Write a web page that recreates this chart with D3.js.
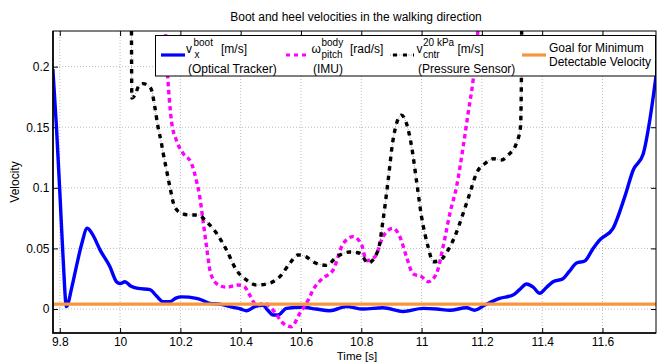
<!DOCTYPE html>
<html><head><meta charset="utf-8">
<script src="https://cdn.jsdelivr.net/npm/d3@7"></script>
<style>
body{margin:0;background:#fff}
text{font-family:"Liberation Sans",Arial,Helvetica,sans-serif;fill:#000}
</style>
</head><body><svg id="c" width="658" height="362"></svg>
<script>
// ---------- data ----------
const xTicks = [9.8, 10, 10.2, 10.4, 10.6, 10.8, 11, 11.2, 11.4, 11.6];
const xTickLabels = ["9.8", "10", "10.2", "10.4", "10.6", "10.8", "11", "11.2", "11.4", "11.6"];
const yTicks = [0, 0.05, 0.1, 0.15, 0.2];
const yTickLabels = ["0", "0.05", "0.1", "0.15", "0.2"];

// optical tracker v_x^boot [m/s]
const bootT = [9.777,9.789,9.800,9.811,9.822,9.840,9.855,9.872,9.891,9.910,9.933,9.966,9.988,10.000,10.016,10.035,10.060,10.099,10.120,10.143,10.165,10.185,10.204,10.253,10.275,10.298,10.331,10.375,10.400,10.419,10.452,10.474,10.490,10.508,10.524,10.552,10.602,10.650,10.696,10.751,10.806,10.872,10.939,11.005,11.050,11.094,11.149,11.176,11.210,11.259,11.303,11.325,11.348,11.370,11.392,11.415,11.436,11.469,11.490,11.514,11.541,11.569,11.591,11.635,11.674,11.702,11.735,11.757,11.778];
const bootV = [0.198,0.150,0.097,0.042,0.002,0.018,0.035,0.053,0.0666,0.061,0.049,0.035,0.0225,0.021,0.0225,0.019,0.017,0.016,0.011,0.006,0.006,0.009,0.010,0.0088,0.007,0.0047,0.004,0.0014,0.000,-0.0014,0.0025,0.003,-0.001,-0.005,-0.005,0.0005,0.0014,0.000,-0.0014,0.002,0.000,0.001,-0.002,0.0005,0.000,-0.001,0.001,-0.001,0.0033,0.0088,0.0115,0.016,0.0206,0.018,0.013,0.018,0.0225,0.025,0.031,0.038,0.0396,0.050,0.057,0.0666,0.0927,0.1147,0.128,0.156,0.193];

// IMU omega_pitch^body [rad/s]
const imuT = [10.145,10.159,10.167,10.170,10.187,10.209,10.237,10.253,10.264,10.275,10.287,10.298,10.320,10.353,10.391,10.414,10.430,10.452,10.480,10.507,10.541,10.568,10.596,10.624,10.640,10.670,10.706,10.740,10.773,10.801,10.817,10.845,10.872,10.905,10.928,10.950,10.972,11.000,11.022,11.049,11.071,11.094,11.116,11.138,11.154,11.171,11.200];
const imuV = [0.26,0.188,0.163,0.156,0.139,0.1285,0.120,0.106,0.093,0.073,0.051,0.032,0.021,0.018,0.0198,0.018,0.0115,0.0033,0.0047,-0.0008,-0.0118,-0.0146,-0.0036,0.0074,0.0157,0.025,0.032,0.054,0.0597,0.053,0.040,0.043,0.0597,0.0666,0.0597,0.043,0.029,0.0267,0.0225,0.029,0.051,0.079,0.101,0.134,0.161,0.189,0.27];

// pressure sensor v_cntr^20kPa [m/s]
const pressT = [10.037,10.039,10.048,10.062,10.076,10.095,10.104,10.115,10.126,10.137,10.143,10.154,10.165,10.181,10.204,10.231,10.259,10.287,10.320,10.353,10.386,10.419,10.452,10.491,10.530,10.563,10.590,10.618,10.640,10.685,10.718,10.762,10.795,10.823,10.856,10.872,10.889,10.905,10.933,10.950,10.967,10.983,11.000,11.022,11.038,11.060,11.088,11.110,11.138,11.160,11.182,11.210,11.237,11.265,11.287,11.315,11.328,11.331,11.333];
const pressV = [0.30,0.174,0.176,0.184,0.186,0.184,0.181,0.167,0.150,0.137,0.1285,0.1147,0.101,0.0844,0.079,0.0776,0.0776,0.072,0.0625,0.0487,0.032,0.024,0.0198,0.021,0.0267,0.0377,0.0446,0.043,0.039,0.036,0.043,0.047,0.046,0.038,0.0487,0.073,0.106,0.139,0.160,0.153,0.134,0.106,0.076,0.051,0.039,0.040,0.0487,0.0597,0.079,0.0955,0.112,0.120,0.124,0.123,0.127,0.137,0.150,0.189,0.30];

// goal for minimum detectable velocity
const goalT = [9.7775, 11.7775];
const goalV = [0.004, 0.004];

const titleText = "Boot and heel velocities in the walking direction";
const xLabel = "Time [s]";
const yLabel = "Velocity";

// ---------- layout ----------
const L = 53, R = 656, T = 31, B = 333;
const svg = d3.select("#c");
const x = d3.scaleLinear().domain([9.7775, 11.7775]).range([L, R]);
const y = d3.scaleLinear().domain([-0.0198, 0.2294]).range([B, T]);

const COL = {boot: "#0000ff", imu: "#ff00ff", press: "#000", goal: "#f7963f"};

svg.append("defs").append("clipPath").attr("id", "clip")
  .append("rect").attr("x", L).attr("y", T).attr("width", R - L).attr("height", B - T);

// grid
const grid = svg.append("g").attr("stroke", "#a8a8a8").attr("stroke-width", 0.8).attr("stroke-dasharray", "1,2");
grid.selectAll(".gx").data(xTicks).join("line")
  .attr("x1", d => x(d)).attr("x2", d => x(d)).attr("y1", T).attr("y2", B);
grid.selectAll(".gy").data(yTicks).join("line")
  .attr("x1", L).attr("x2", R).attr("y1", d => y(d)).attr("y2", d => y(d));

// axes
const fmtX = d => xTickLabels[xTicks.indexOf(d)];
const fmtY = d => yTickLabels[yTicks.indexOf(d)];
const ax = (g) => { g.select(".domain").remove(); g.selectAll("text").attr("font-size", 12).attr("font-family", '"Liberation Sans",Arial,sans-serif').attr("fill", "#000"); g.selectAll("line").attr("stroke", "#000"); };
svg.append("g").attr("transform", `translate(0,${B})`)
  .call(d3.axisBottom(x).tickValues(xTicks).tickFormat(fmtX).tickSizeInner(-5).tickSizeOuter(0).tickPadding(4.5)).call(ax);
svg.append("g").attr("transform", `translate(${L},0)`)
  .call(d3.axisLeft(y).tickValues(yTicks).tickFormat(fmtY).tickSizeInner(-5).tickSizeOuter(0).tickPadding(3.5)).call(ax);
svg.append("g").attr("transform", `translate(0,${T})`)
  .call(d3.axisTop(x).tickValues(xTicks).tickFormat("").tickSizeInner(-5).tickSizeOuter(0)).call(ax);
svg.append("g").attr("transform", `translate(${R},0)`)
  .call(d3.axisRight(y).tickValues(yTicks).tickFormat("").tickSizeInner(-5).tickSizeOuter(0)).call(ax);

// lines
const plot = svg.append("g").attr("clip-path", "url(#clip)");
const mk = (ts, vs) => ts.map((t, i) => [t, vs[i]]);
const line = d3.line().x(d => x(d[0])).y(d => y(d[1])).curve(d3.curveMonotoneX);

plot.append("path").datum(mk(bootT, bootV)).attr("d", line)
  .attr("fill", "none").attr("stroke", COL.boot).attr("stroke-width", 3.4).attr("stroke-linejoin", "round");
plot.append("path").datum(mk(imuT, imuV)).attr("d", line)
  .attr("fill", "none").attr("stroke", COL.imu).attr("stroke-width", 3.4).attr("stroke-dasharray", "4.5,3.5");
plot.append("path").datum(mk(pressT, pressV)).attr("d", line)
  .attr("fill", "none").attr("stroke", "#8a8a8a").attr("stroke-width", 0.9).attr("stroke-dasharray", "1,1.3");
plot.append("path").datum(mk(pressT, pressV)).attr("d", line)
  .attr("fill", "none").attr("stroke", COL.press).attr("stroke-width", 3.4).attr("stroke-dasharray", "4.5,5");
plot.append("path").datum(mk(goalT, goalV)).attr("d", line)
  .attr("fill", "none").attr("stroke", COL.goal).attr("stroke-width", 3.2);

// frame
svg.append("rect").attr("x", L).attr("y", T).attr("width", R - L).attr("height", B - T)
  .attr("fill", "none").attr("stroke", "#000").attr("stroke-width", 1);
svg.append("path").attr("d", `M${L},${T}V${B}H${R}`).attr("fill", "none").attr("stroke", "#000").attr("stroke-width", 1.6);

// titles
svg.append("text").attr("x", 356).attr("y", 21).attr("text-anchor", "middle").attr("font-size", 12).text(titleText);
svg.append("text").attr("x", 357).attr("y", 359.5).attr("text-anchor", "middle").attr("font-size", 11.5).text(xLabel);
svg.append("text").attr("transform", "translate(19,182) rotate(-90)").attr("text-anchor", "middle").attr("font-size", 12).text(yLabel);

// legend
const lg = svg.append("g");
lg.append("rect").attr("x", 155.5).attr("y", 35.5).attr("width", 500).attr("height", 40.5)
  .attr("fill", "#fff").attr("stroke", "#000").attr("stroke-width", 1);
const t = (xx, yy, s, fs) => lg.append("text").attr("x", xx).attr("y", yy).attr("font-size", fs || 12).text(s);
// entry 1
lg.append("line").attr("x1", 161).attr("x2", 185).attr("y1", 55).attr("y2", 55).attr("stroke", COL.boot).attr("stroke-width", 3.2);
t(186, 52.5, "v"); t(193.5, 46, "boot", 10); t(194.5, 58, "x", 10); t(221, 52.5, "[m/s]"); t(188, 72.5, "(Optical Tracker)");
// entry 2
lg.append("line").attr("x1", 286).attr("x2", 310).attr("y1", 55).attr("y2", 55).attr("stroke", COL.imu).attr("stroke-width", 3.2).attr("stroke-dasharray", "4,4");
t(311.5, 52.5, "ω"); t(321.5, 46, "body", 10); t(321.5, 58, "pitch", 10); t(350, 52.5, "[rad/s]"); t(313, 72.5, "(IMU)");
// entry 3
lg.append("line").attr("x1", 390).attr("x2", 414).attr("y1", 55).attr("y2", 55).attr("stroke", "#8a8a8a").attr("stroke-width", 0.9).attr("stroke-dasharray", "1,1.3");
lg.append("line").attr("x1", 393).attr("x2", 414).attr("y1", 55).attr("y2", 55).attr("stroke", "#000").attr("stroke-width", 3).attr("stroke-dasharray", "4,6");
t(416.5, 52.5, "v"); t(423, 46, "20 kPa", 10); t(423, 58, "cntr", 10); t(457.5, 52.5, "[m/s]"); t(418, 72.5, "(Pressure Sensor)");
// entry 4
lg.append("line").attr("x1", 522).attr("x2", 546).attr("y1", 55).attr("y2", 55).attr("stroke", COL.goal).attr("stroke-width", 3.2);
t(549, 52, "Goal for Minimum"); t(549, 66, "Detectable Velocity");
</script>
</body></html>
